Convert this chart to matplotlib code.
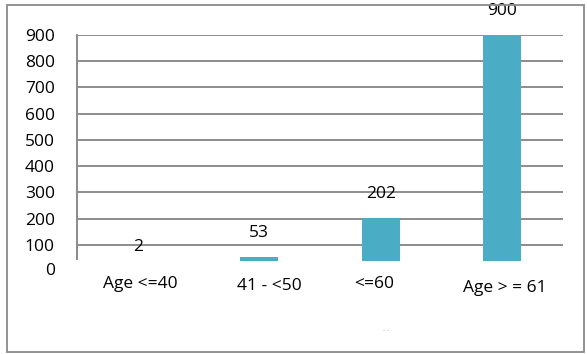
import matplotlib
matplotlib.use("Agg")
import matplotlib.pyplot as plt
from matplotlib.patches import Rectangle
from matplotlib.transforms import ScaledTranslation

categories = ["Age <=40", "41 - <50", "<=60", "Age > = 61"]
counts = [2, 53, 202, 900]
y_ticks = [100, 200, 300, 400, 500, 600, 700, 800, 900]

BAR_COLOR = "#4BACC6"
GRID_COLOR = "#8C8C8C"
FONT = ["Open Sans", "DejaVu Sans"]
FS = 12.5

plt.rcParams["font.family"] = FONT

W, H = 587, 354
fig = plt.figure(figsize=(W / 100, H / 100), dpi=100)
fig.patch.set_facecolor("white")

# outer chart frame
fig.patches.append(Rectangle((7 / W, 2 / H), 577 / W, 347 / H,
                             transform=fig.transFigure, fill=False,
                             edgecolor="#8A8A8A", linewidth=1.3))

left, right = 77, 563
top_px, low_px = 35, 260.5
ax = fig.add_axes([left / W, 1 - low_px / H, (right - left) / W, (low_px - top_px) / H])

x = range(len(categories))
ax.bar(x, counts, width=0.31, color=BAR_COLOR, zorder=3)
ax.set_xlim(-0.5, len(categories) - 0.5)
ax.set_ylim(40, 900)

for v in y_ticks:
    ax.axhline(v, color=GRID_COLOR, linewidth=1.4, zorder=1)

for s in ["top", "right", "bottom"]:
    ax.spines[s].set_visible(False)
ax.spines["left"].set_color(GRID_COLOR)
ax.spines["left"].set_linewidth(1.4)
ax.spines["left"].set_bounds(45, 900)

ax.set_yticks(y_ticks)
ax.tick_params(axis="y", length=0, pad=16, labelsize=FS, labelcolor="black")
ax.annotate("0", xy=(0, 0), xycoords=("axes fraction", "data"),
            xytext=(-16, 0), textcoords="offset points",
            ha="right", va="center", fontsize=FS, annotation_clip=False)

ax.set_xticks(list(x))
ax.set_xticklabels(categories, fontsize=FS)
ax.tick_params(axis="x", length=0, pad=11.5)
shifts = [(3, 0), (10, -2), (-7, 0), (3, -4)]
for lab, (dx, dy) in zip(ax.get_xticklabels(), shifts):
    lab.set_transform(lab.get_transform() + ScaledTranslation(dx / 100, dy / 100, fig.dpi_scale_trans))

for xi, v in zip(x, counts):
    ax.annotate(str(v), xy=(xi, v), xytext=(0, 17), textcoords="offset points",
                ha="center", va="center", fontsize=FS, annotation_clip=False)

fig.text(386 / W, 1 - 331 / H, "- -", ha="center", va="center",
         fontsize=5, color="#B0B0B0")

fig.savefig("out.png", dpi=100, facecolor="white")
